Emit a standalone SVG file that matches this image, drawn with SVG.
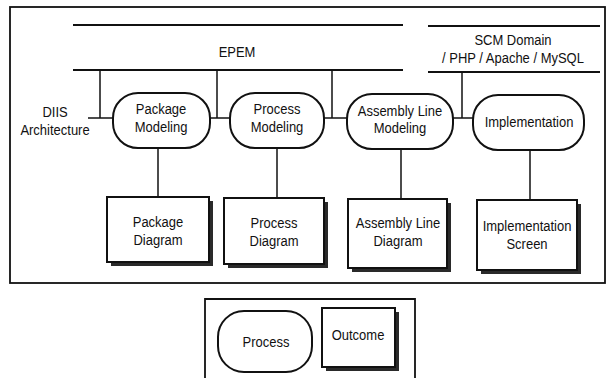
<svg xmlns="http://www.w3.org/2000/svg" width="615" height="378" viewBox="0 0 615 378">
<style>
text{font-family:"Liberation Sans",Arial,sans-serif;font-size:15px;fill:#111;text-anchor:middle}
.frame{fill:none;stroke:#111;stroke-width:1.8}
.bar{fill:none;stroke:#111;stroke-width:2}
.conn{fill:none;stroke:#111;stroke-width:1.5}
.proc{fill:#fff;stroke:#111;stroke-width:2}
.out{fill:#fff;stroke:#111;stroke-width:2}
.shadow{fill:#2a2a2a}
</style>
<rect class="frame" x="10" y="7" width="595" height="276"/>
<g id="bars">
<line class="bar" x1="73" y1="25" x2="403" y2="25"/>
<line class="bar" x1="73" y1="70" x2="403" y2="70"/>
<line class="bar" x1="428" y1="26" x2="600" y2="26"/>
<line class="bar" x1="428" y1="72" x2="600" y2="72"/>
</g>
<g id="labels">
<text transform="scale(0.8667,1)" x="273.5" y="57">EPEM</text>
<text transform="scale(0.8667,1)" x="591.9" y="45">SCM Domain</text>
<text transform="scale(0.8667,1)" x="591.9" y="63">/ PHP / Apache / MySQL</text>
<text transform="scale(0.8667,1)" x="63.5" y="117">DIIS</text>
<text transform="scale(0.8667,1)" x="63.5" y="135">Architecture</text>
</g>
<g id="connectors">
<line class="conn" x1="100" y1="70" x2="100" y2="118"/>
<line class="conn" x1="88" y1="118" x2="113" y2="118"/>
<line class="conn" x1="217" y1="70" x2="217" y2="118"/>
<line class="conn" x1="210" y1="118" x2="230" y2="118"/>
<line class="conn" x1="332" y1="70" x2="332" y2="118"/>
<line class="conn" x1="324" y1="118" x2="347" y2="118"/>
<line class="conn" x1="462" y1="72" x2="462" y2="118"/>
<line class="conn" x1="453" y1="118" x2="473" y2="118"/>
<line class="conn" x1="158" y1="148" x2="158" y2="197"/>
<line class="conn" x1="277" y1="148" x2="277" y2="198"/>
<line class="conn" x1="401" y1="149" x2="401" y2="199"/>
<line class="conn" x1="530" y1="150" x2="530" y2="200"/>
</g>
<g id="package-modeling">
<rect class="proc" x="113" y="93" width="97" height="55" rx="25" ry="25"/>
<text transform="scale(0.8667,1)" x="185.8" y="114">Package</text>
<text transform="scale(0.8667,1)" x="185.8" y="132">Modeling</text>
</g>
<g id="process-modeling">
<rect class="proc" x="230" y="93" width="94" height="55" rx="25" ry="25"/>
<text transform="scale(0.8667,1)" x="319.6" y="114">Process</text>
<text transform="scale(0.8667,1)" x="319.6" y="132">Modeling</text>
</g>
<g id="assembly-line-modeling">
<rect class="proc" x="347" y="94" width="106" height="55" rx="25" ry="25"/>
<text transform="scale(0.8667,1)" x="461.5" y="116">Assembly Line</text>
<text transform="scale(0.8667,1)" x="461.5" y="133">Modeling</text>
</g>
<g id="implementation">
<rect class="proc" x="473" y="95" width="111" height="55" rx="25" ry="25"/>
<text transform="scale(0.8667,1)" x="610.4" y="127">Implementation</text>
</g>
<g id="package-diagram">
<rect class="shadow" x="111" y="201" width="102" height="65"/>
<rect class="out" x="107" y="197" width="102" height="65"/>
<text transform="scale(0.8667,1)" x="182.3" y="227">Package</text>
<text transform="scale(0.8667,1)" x="182.3" y="245">Diagram</text>
</g>
<g id="process-diagram">
<rect class="shadow" x="228" y="202" width="100" height="66"/>
<rect class="out" x="224" y="198" width="100" height="66"/>
<text transform="scale(0.8667,1)" x="316.2" y="228">Process</text>
<text transform="scale(0.8667,1)" x="316.2" y="246">Diagram</text>
</g>
<g id="assembly-line-diagram">
<rect class="shadow" x="352" y="203" width="99" height="69"/>
<rect class="out" x="348" y="199" width="99" height="69"/>
<text transform="scale(0.8667,1)" x="459.2" y="228">Assembly Line</text>
<text transform="scale(0.8667,1)" x="459.2" y="246">Diagram</text>
</g>
<g id="implementation-screen">
<rect class="shadow" x="481" y="204" width="100" height="70"/>
<rect class="out" x="477" y="200" width="100" height="70"/>
<text transform="scale(0.8667,1)" x="608.1" y="231">Implementation</text>
<text transform="scale(0.8667,1)" x="608.1" y="249">Screen</text>
</g>
<g id="legend">
<polyline class="frame" points="205,380 205,299 415,299 415,380"/>
<rect class="proc" x="218" y="311" width="94" height="61" rx="26" ry="26"/>
<text transform="scale(0.8667,1)" x="306.9" y="347">Process</text>
<rect class="shadow" x="326" y="312" width="73" height="59"/>
<rect class="out" x="322" y="308" width="73" height="59"/>
<text transform="scale(0.8667,1)" x="413.1" y="340">Outcome</text>
</g>
</svg>
